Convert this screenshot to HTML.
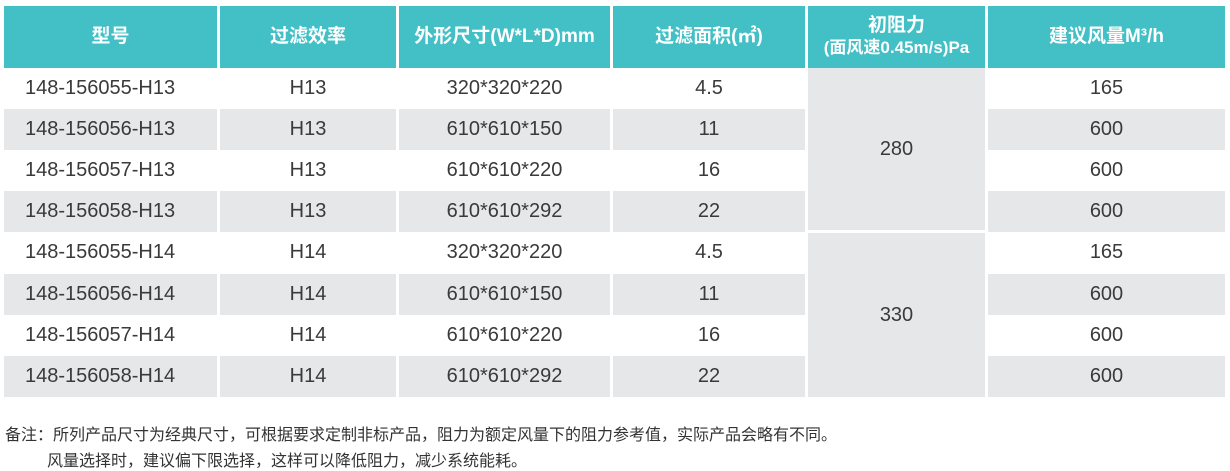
<!DOCTYPE html>
<html><head><meta charset="utf-8"><style>
body{margin:0;width:1230px;height:470px;background:#fff;position:relative;overflow:hidden;font-family:"Liberation Sans","Noto Sans CJK SC",sans-serif;}
.c{position:absolute;display:flex;align-items:center;justify-content:center;font-size:20px;color:#3a3a3a;box-sizing:border-box;}
.h{background:#42c0c6;color:#fff;font-weight:bold;font-size:19px;text-align:center;line-height:22px;}
.g{background:#e6e7e9;}
.n{position:absolute;font-size:16px;color:#333;}
</style></head><body>
<div class="c h" style="left:4px;top:6px;width:213px;height:62px">型号</div>
<div class="c h" style="left:220px;top:6px;width:176px;height:62px">过滤效率</div>
<div class="c h" style="left:399px;top:6px;width:211px;height:62px">外形尺寸(W*L*D)mm</div>
<div class="c h" style="left:613px;top:6px;width:192px;height:62px">过滤面积(㎡)</div>
<div class="c h" style="left:808px;top:6px;width:177px;height:62px;flex-direction:column">初阻力<span style="font-size:17px">(面风速0.45m/s)Pa</span></div>
<div class="c h" style="left:988px;top:6px;width:237px;height:62px">建议风量M³/h</div>
<div id="rows"></div>
<script>
var d=[["148-156055-H13","H13","320*320*220","4.5","165"],["148-156056-H13","H13","610*610*150","11","600"],["148-156057-H13","H13","610*610*220","16","600"],["148-156058-H13","H13","610*610*292","22","600"],["148-156055-H14","H14","320*320*220","4.5","165"],["148-156056-H14","H14","610*610*150","11","600"],["148-156057-H14","H14","610*610*220","16","600"],["148-156058-H14","H14","610*610*292","22","600"]];
var cols=[[4,213],[220,176],[399,211],[613,192],[988,237]];
var h="";
for(var i=0;i<8;i++){var t=68+i*41.1,g=i%2?" g":"";
for(var j=0;j<5;j++){var s=j==0?"justify-content:flex-start;padding-left:21px;":"";
h+='<div class="c'+g+'" style="'+s+'left:'+cols[j][0]+'px;top:'+t+'px;width:'+cols[j][1]+'px;height:41.1px">'+d[i][j]+'</div>';}}
h+='<div class="c g" style="left:808px;top:68px;width:177px;height:162px">280</div>';
h+='<div class="c g" style="left:808px;top:233px;width:177px;height:164px">330</div>';
document.getElementById("rows").innerHTML=h;
</script>
<div class="n" style="left:5px;top:421px">备注：所列产品尺寸为经典尺寸，可根据要求定制非标产品，阻力为额定风量下的阻力参考值，实际产品会略有不同。</div>
<div class="n" style="left:47px;top:447px">风量选择时，建议偏下限选择，这样可以降低阻力，减少系统能耗。</div>
</body></html>
